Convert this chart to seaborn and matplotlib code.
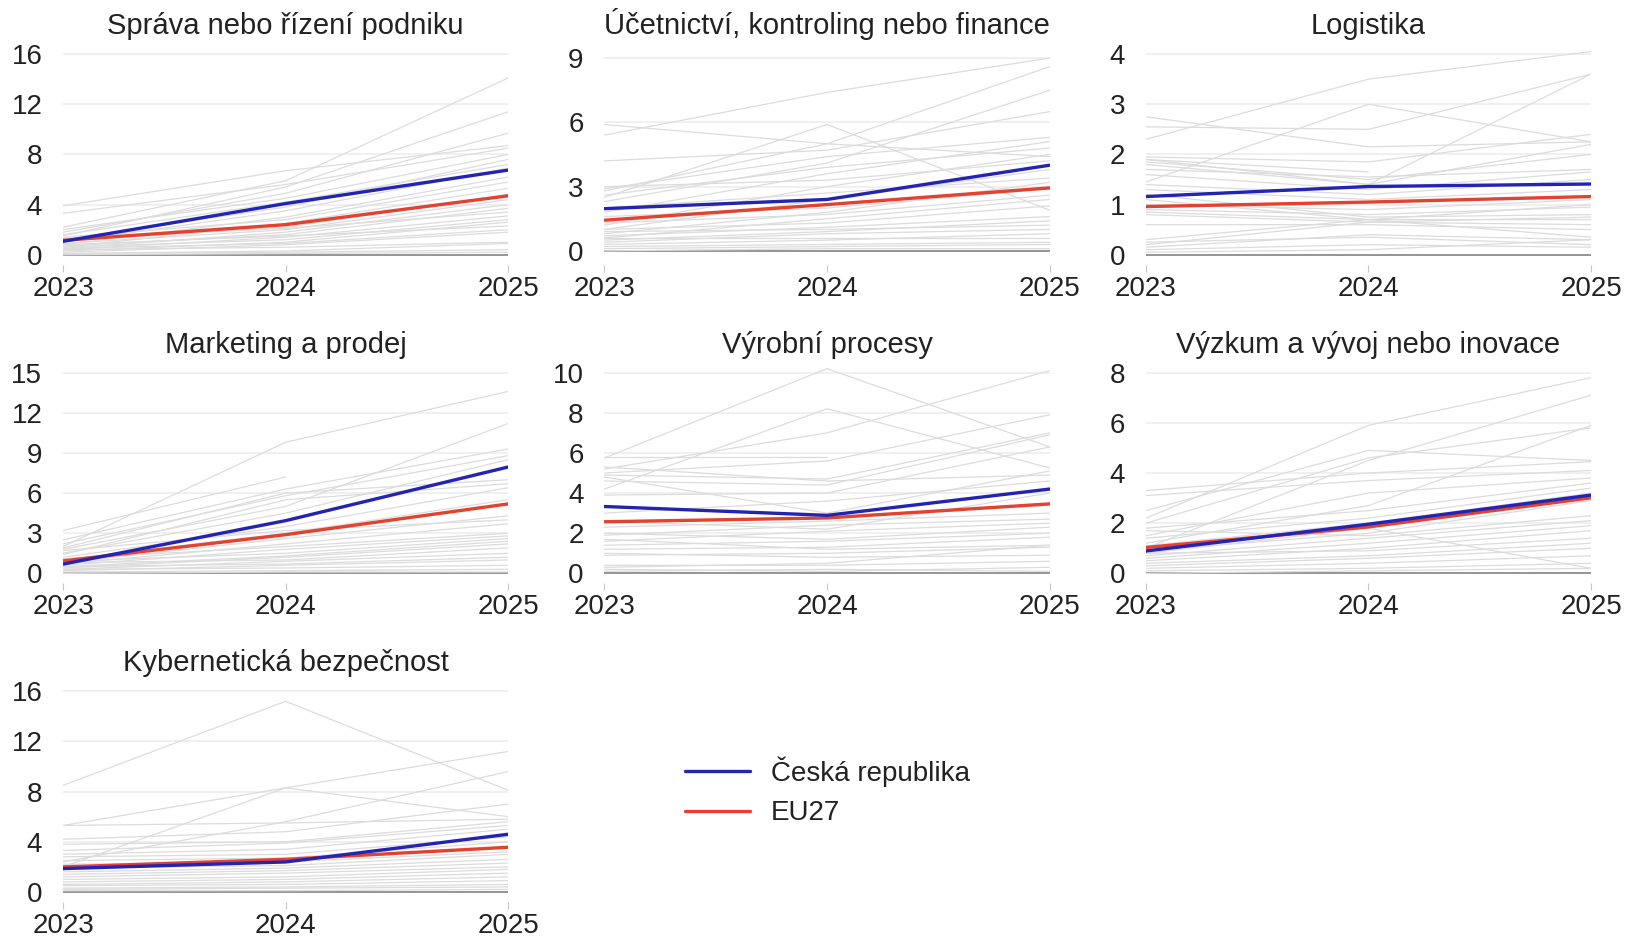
# =============================================================
#  Podíl firem podle oblasti - vývoj 2023-2025
#  Šedé linky: ostatní země, modrá: ČR, červená: EU27
# =============================================================

import numpy as np
import pandas as pd
import matplotlib.pyplot as plt
from matplotlib.lines import Line2D
import seaborn as sns

nan = np.nan

ROKY = [2023, 2024, 2025]

NAZVY = [
    "Správa nebo řízení podniku",
    "Účetnictví, kontroling nebo finance",
    "Logistika",
    "Marketing a prodej",
    "Výrobní procesy",
    "Výzkum a vývoj nebo inovace",
    "Kybernetická bezpečnost",
]

OSY_Y = [
    [0, 4, 8, 12, 16],
    [0, 3, 6, 9],
    [0, 1, 2, 3, 4],
    [0, 3, 6, 9, 12, 15],
    [0, 2, 4, 6, 8, 10],
    [0, 2, 4, 6, 8],
    [0, 4, 8, 12, 16],
]

# hodnoty ČR a EU27 (2023, 2024, 2025), pořadí jako NAZVY
CESKO = [
    (1.07, 4.08, 6.75),
    (1.97, 2.40, 4.00),
    (1.16, 1.36, 1.41),
    (0.69, 3.94, 7.95),
    (3.33, 2.89, 4.20),
    (0.89, 1.96, 3.12),
    (1.86, 2.39, 4.60),
]

EU27 = [
    (1.15, 2.40, 4.70),
    (1.43, 2.16, 2.94),
    (0.96, 1.05, 1.16),
    (0.93, 2.89, 5.19),
    (2.57, 2.76, 3.46),
    (1.03, 1.85, 3.01),
    (1.99, 2.60, 3.56),
]

# ostatní země (2023, 2024, 2025)
sprava = [
    (2.2, 5.9, 14.1), (1.5, 5.4, 11.4), (1.8, 4.9, 9.7), (3.9, 6.7, 8.7),
    (3.3, 5.6, 8.5), (2.0, 4.5, 8.0), (1.2, 3.8, 7.6), (1.6, 4.2, 7.2),
    (1.0, 3.5, 6.9), (0.8, 3.0, 6.2), (1.4, 2.8, 5.8), (0.6, 2.5, 5.3),
    (1.1, 2.2, 4.8), (0.9, 2.0, 4.4), (0.5, 1.8, 4.0), (0.7, 1.6, 3.7),
    (1.3, 2.1, 3.4), (0.4, 1.4, 3.1), (0.6, 1.2, 2.8), (0.3, 1.0, 2.6),
    (0.8, 1.5, 2.3), (0.5, 0.9, 2.0), (0.2, 0.8, 1.8), (0.4, 0.6, 1.0),
    (0.1, 0.3, 0.9), (0.1, 0.2, 0.4), (0.0, 0.1, 0.2),
]

ucetnictvi = [
    (5.4, 7.4, 9.0), (2.8, 5.0, 8.6), (2.3, 4.1, 7.5), (4.2, 4.7, 6.5),
    (5.9, 5.0, 4.4), (2.5, 5.9, 1.9), (2.9, 4.4, 5.3), (1.8, 3.6, 5.1),
    (2.6, 3.9, 4.8), (1.2, 3.0, 4.5), (3.0, 3.3, 4.2), (1.0, 2.4, 3.8),
    (2.0, 2.7, 3.4), (0.8, 1.8, 3.2), (1.6, 2.0, 2.9), (1.3, 1.7, 2.6),
    (0.6, 1.5, 2.4), (1.0, 1.3, 2.1), (0.7, 1.1, 1.6), (0.5, 0.9, 1.4),
    (0.9, 1.0, 1.2), (0.4, 0.8, 1.0), (0.3, 0.5, 0.8), (0.6, 0.6, 0.6),
    (0.2, 0.3, 0.4), (0.1, 0.2, 0.3), (0.0, 0.1, 0.1),
]

logistika = [
    (2.3, 3.5, 4.05), (1.45, 3.0, 2.25), (2.55, 2.5, 3.6), (1.9, 1.4, 3.6),
    (2.75, 2.15, 2.25), (1.95, 1.85, 2.4), (1.9, 1.65, nan), (1.85, 1.5, 2.0),
    (1.8, 1.4, 2.2), (1.7, 1.55, 1.7), (1.6, 1.3, 1.65), (1.4, 1.2, 1.5),
    (1.3, 1.1, 1.3), (1.0, 0.9, 1.1), (0.9, 0.8, 0.95), (1.2, 0.75, 0.8),
    (0.85, 0.7, 0.7), (0.8, 0.65, 0.6), (0.6, 0.6, 0.5), (1.1, 0.7, 0.35),
    (0.3, 0.7, 1.0), (0.2, 0.65, 0.75), (0.15, 0.4, 0.3), (0.25, 0.35, 0.2),
    (0.1, 0.2, 0.15), (0.05, 0.1, 0.3),
]

marketing = [
    (2.0, 9.8, 13.6), (3.2, 7.2, nan), (1.8, 5.0, 11.2), (2.5, 6.3, 9.3),
    (2.2, 5.8, 8.8), (1.5, 4.5, 8.5), (1.9, 6.0, 7.0), (1.4, 5.5, 6.7),
    (1.2, 3.5, 6.4), (1.0, 3.0, 5.5), (0.8, 2.6, 4.3), (1.7, 3.2, 4.0),
    (0.7, 2.2, 3.7), (1.1, 2.0, 3.0), (0.6, 1.8, 2.8), (0.9, 1.5, 2.6),
    (0.5, 1.3, 2.4), (0.4, 1.2, 2.2), (0.8, 1.0, 1.9), (0.3, 0.9, 1.5),
    (0.5, 0.7, 1.2), (0.2, 0.6, 1.0), (0.3, 0.4, 0.6), (0.1, 0.2, 0.3),
    (0.0, 0.1, 0.1),
]

vyroba = [
    (5.75, 10.2, 6.3), (4.2, 8.2, 5.25), (5.2, 7.0, 10.1), (5.8, 5.8, nan),
    (5.0, 5.6, 7.9), (4.9, 4.7, 7.0), (4.6, 4.4, 6.9), (3.9, 4.0, 6.3),
    (4.8, 3.0, 5.1), (5.3, 4.6, 4.9), (3.0, 3.6, 4.6), (2.6, 2.2, 4.0),
    (2.3, 2.6, 3.0), (1.9, 2.4, 2.7), (1.6, 2.1, 2.5), (2.0, 1.7, 2.3),
    (1.4, 1.6, 2.0), (1.2, 1.3, 1.8), (1.7, 1.2, 1.4), (0.9, 1.0, 1.3),
    (1.0, 0.8, 0.9), (0.3, 0.5, 1.4), (0.4, 0.4, 0.6), (0.2, 0.1, 0.3),
    (0.1, 0.2, 0.1),
]

vyzkum = [
    (2.2, 5.9, 7.8), (1.0, 4.5, 7.1), (2.5, 4.9, 4.5), (1.2, 2.7, 5.9),
    (3.3, 4.0, 4.45), (2.0, 4.6, 5.8), (3.1, 3.7, 4.1), (1.5, 3.2, 3.8),
    (1.8, 2.5, 3.6), (0.8, 1.8, 0.2), (1.4, 2.2, 3.4), (1.1, 2.0, 3.2),
    (0.9, 1.6, 2.9), (1.7, 1.5, 2.3), (0.7, 1.4, 2.1), (0.6, 1.2, 1.9),
    (0.5, 1.0, 1.7), (0.8, 0.9, 1.4), (0.4, 0.7, 1.2), (0.3, 0.6, 1.0),
    (0.2, 0.4, 0.7), (0.1, 0.2, 0.4), (0.0, 0.1, 0.2),
]

kyber = [
    (8.5, 15.2, 8.1), (5.3, 8.3, 11.2), (2.0, 8.3, 6.0), (2.4, 5.6, 9.6),
    (5.3, 5.5, 5.8), (4.2, 4.8, 7.0), (3.8, 4.0, 5.6), (3.3, 3.9, 5.3),
    (3.0, 3.4, 5.0), (2.8, 3.0, 4.4), (2.5, 2.7, 4.0), (2.2, 2.4, 3.2),
    (1.9, 2.1, 3.0), (1.6, 1.9, 2.6), (1.4, 1.7, 2.3), (1.2, 1.5, 2.0),
    (1.0, 1.2, 1.8), (0.8, 1.0, 1.5), (0.6, 0.8, 1.2), (0.5, 0.6, 0.9),
    (0.3, 0.4, 0.6), (0.2, 0.3, 0.4), (0.1, 0.1, 0.2),
]

OSTATNI = [sprava, ucetnictvi, logistika, marketing, vyroba, vyzkum, kyber]

BARVA_CZ   = "#2323b4"
BARVA_EU   = "#e5412f"
BARVA_SEDA = "#dcdcdc"


def na_tabulku(radky):
    zaznamy = []
    for i, hodnoty in enumerate(radky):
        for rok, v in zip(ROKY, hodnoty):
            zaznamy.append({"zeme": i, "rok": rok, "hodnota": v})
    return pd.DataFrame(zaznamy).dropna()


sns.set_theme(style="white")
plt.rcParams["font.family"] = ["Liberation Sans", "DejaVu Sans"]

fig, axes = plt.subplots(3, 3, figsize=(16.26, 9.42), dpi=100)
fig.subplots_adjust(left=0.0388, right=0.9785, bottom=0.0425, top=0.949,
                    wspace=0.216, hspace=0.47)

for k, ax in enumerate(axes.flat):
    if k >= len(NAZVY):
        ax.axis("off")
        continue

    sns.lineplot(data=na_tabulku(OSTATNI[k]), x="rok", y="hodnota",
                 units="zeme", estimator=None, color=BARVA_SEDA,
                 linewidth=0.9, ax=ax, legend=False)

    eu = pd.DataFrame({"rok": ROKY, "hodnota": EU27[k]})
    cz = pd.DataFrame({"rok": ROKY, "hodnota": CESKO[k]})
    sns.lineplot(data=eu, x="rok", y="hodnota", color=BARVA_EU,
                 linewidth=2.4, ax=ax)
    sns.lineplot(data=cz, x="rok", y="hodnota", color=BARVA_CZ,
                 linewidth=2.4, ax=ax)

    ticks = OSY_Y[k]
    top = ticks[-1]
    if k == 1:
        ax.set_ylim(-0.65, 9.47)
    else:
        ax.set_ylim(-0.05 * top, 1.03 * top)
    ax.set_yticks(ticks)
    ax.set_xlim(2023, 2025)
    ax.set_xticks(ROKY)
    ax.set_xticklabels([str(r) for r in ROKY])

    for t in ticks[1:]:
        ax.axhline(t, color="#eeeeee", linewidth=1.2, zorder=0)
    ax.axhline(0, color="#8c8c8c", linewidth=1.3, zorder=1)

    sns.despine(ax=ax, left=True, bottom=True)
    ax.tick_params(axis="y", length=0, pad=15, labelsize=20, labelcolor="#222222")
    ax.tick_params(axis="x", length=5, width=0.8, color="#c8c8c8", pad=3,
                   labelsize=20, labelcolor="#222222", bottom=True)
    ax.set_xlabel("")
    ax.set_ylabel("")
    ax.set_title(NAZVY[k], fontsize=21, pad=10, color="#222222")

# legenda
handles = [
    Line2D([], [], color=BARVA_CZ, linewidth=2.4),
    Line2D([], [], color=BARVA_EU, linewidth=2.4),
]
fig.legend(handles, ["Česká republika", "EU27"], loc="center left",
           bbox_to_anchor=(0.421, 0.16), frameon=False, fontsize=20,
           handlelength=2.35, handletextpad=0.75, labelspacing=0.5,
           borderaxespad=0, borderpad=0, labelcolor="#222222")

plt.savefig("out.png", dpi=100)
plt.close()
